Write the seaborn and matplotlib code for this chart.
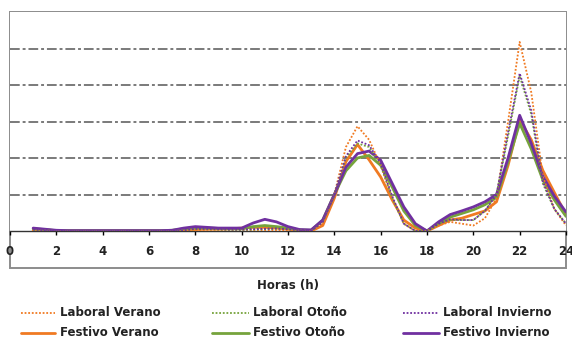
import numpy as np
import pandas as pd
import matplotlib
matplotlib.use("Agg")
import matplotlib.pyplot as plt
import seaborn as sns
from matplotlib.patches import Rectangle
from matplotlib.lines import Line2D

hours = np.arange(1, 24.5, 0.5)

laboral_verano = [0.02, 0.01, 0.0, 0.0, 0.0, 0.0, 0.0, 0.0, 0.0, 0.0, 0.0, 0.0, 0.0, 0.01,
                  0.02, 0.03, 0.03, 0.02, 0.02, 0.02, 0.02, 0.02, 0.02, 0.01, 0.0, 0.2,
                  1.0, 2.3, 2.87, 2.5, 1.8, 0.9, 0.2, 0.0, 0.0, 0.15, 0.25, 0.2, 0.15,
                  0.35, 0.9, 3.0, 5.18, 3.8, 1.5, 0.6, 0.15]
laboral_otono = [0.03, 0.02, 0.0, 0.0, 0.0, 0.0, 0.0, 0.0, 0.0, 0.0, 0.0, 0.0, 0.0, 0.02,
                 0.05, 0.05, 0.04, 0.03, 0.03, 0.04, 0.05, 0.06, 0.05, 0.02, 0.0, 0.25,
                 1.0, 2.0, 2.4, 2.3, 1.8, 0.9, 0.2, 0.0, 0.0, 0.2, 0.3, 0.3, 0.3,
                 0.55, 1.0, 2.6, 4.25, 3.2, 1.3, 0.6, 0.2]
laboral_invierno = [0.04, 0.02, 0.0, 0.0, 0.0, 0.0, 0.0, 0.0, 0.0, 0.0, 0.0, 0.0, 0.0, 0.02,
                    0.06, 0.06, 0.05, 0.04, 0.04, 0.05, 0.06, 0.07, 0.05, 0.02, 0.0, 0.25,
                    1.0, 2.05, 2.48, 2.35, 1.85, 0.95, 0.2, 0.0, 0.0, 0.2, 0.32, 0.3, 0.3,
                    0.55, 1.0, 2.7, 4.32, 3.3, 1.35, 0.6, 0.2]
festivo_verano = [0.02, 0.01, 0.0, 0.0, 0.0, 0.0, 0.0, 0.0, 0.0, 0.0, 0.0, 0.0, 0.0, 0.02,
                  0.04, 0.05, 0.05, 0.06, 0.08, 0.1, 0.1, 0.08, 0.05, 0.01, 0.0, 0.15,
                  0.9, 1.9, 2.37, 1.95, 1.48, 0.85, 0.3, 0.08, 0.0, 0.15, 0.3, 0.35, 0.45,
                  0.55, 0.8, 1.8, 3.05, 2.5, 1.66, 1.05, 0.45]
festivo_otono = [0.06, 0.04, 0.01, 0.01, 0.01, 0.01, 0.01, 0.01, 0.01, 0.01, 0.01, 0.01, 0.02, 0.06,
                 0.09, 0.08, 0.07, 0.06, 0.06, 0.12, 0.15, 0.12, 0.08, 0.03, 0.02, 0.3,
                 1.0, 1.65, 2.0, 2.07, 1.8, 1.2, 0.55, 0.15, 0.0, 0.2, 0.38, 0.48, 0.58,
                 0.72, 0.92, 1.9, 2.95, 2.25, 1.4, 0.85, 0.4]
festivo_invierno = [0.08, 0.05, 0.02, 0.01, 0.01, 0.01, 0.01, 0.01, 0.01, 0.01, 0.01, 0.01, 0.02, 0.08,
                    0.12, 0.1, 0.08, 0.08, 0.08, 0.22, 0.32, 0.25, 0.12, 0.04, 0.03, 0.3,
                    1.0, 1.75, 2.12, 2.19, 1.94, 1.3, 0.66, 0.2, 0.0, 0.25, 0.45, 0.55, 0.66,
                    0.8, 1.0, 2.0, 3.17, 2.4, 1.5, 0.95, 0.52]

orange = "#F07A22"
green = "#76A33C"
purple = "#7030A0"

series = [
    ("Laboral Verano", laboral_verano, orange, ":"),
    ("Festivo Verano", festivo_verano, orange, "-"),
    ("Laboral Otoño", laboral_otono, green, ":"),
    ("Festivo Otoño", festivo_otono, green, "-"),
    ("Laboral Invierno", laboral_invierno, purple, ":"),
    ("Festivo Invierno", festivo_invierno, purple, "-"),
]

sns.set_theme(style="white")
plt.rcParams["font.family"] = ["DejaVu Sans"]

fig = plt.figure(figsize=(5.72, 3.39), dpi=100)
W, H = 572, 339
ax = fig.add_axes([10 / W, (H - 231) / H, 556 / W, 219 / H])

# gridlines
for yv in [1, 2, 3, 4, 5]:
    ax.axhline(yv, color="#7a7a7a", lw=1.4, ls=(0, (5, 1.5, 1.5, 1.5)), zorder=1)

# solid lines first, dotted on top
for name, vals, col, ls in series:
    df = pd.DataFrame({"h": hours, "v": vals})
    if ls == "-":
        sns.lineplot(data=df, x="h", y="v", ax=ax, color=col, lw=2.0, zorder=3)
    else:
        sns.lineplot(data=df, x="h", y="v", ax=ax, color=col, lw=1.3,
                     linestyle=(0, (1, 1)), zorder=4)

ax.set_xlim(0, 24)
ax.set_ylim(0, 6)
ax.set_xticks(range(0, 25, 2))
ax.set_yticks([])
ax.set_xlabel("")
ax.set_ylabel("")
ax.tick_params(axis="x", direction="out", length=3, width=1, color="black",
               labelsize=8.5, pad=7, bottom=True)
for lab in ax.get_xticklabels():
    lab.set_fontweight("bold")
    lab.set_color("#222222")
for s in ["top", "right", "left"]:
    ax.spines[s].set_visible(False)
ax.spines["bottom"].set_color("#333333")
ax.spines["bottom"].set_linewidth(1.0)

# outer plot-area frame
fig.add_artist(Rectangle((10 / W, (H - 268) / H), 556 / W, 256 / H,
                         transform=fig.transFigure, fill=False,
                         edgecolor="#8c8c8c", lw=1.4, zorder=0))

fig.text(288 / W, 1 - 286 / H, "Horas (h)", ha="center", va="center",
         fontsize=8.5, fontweight="bold", color="#222222")

# legend, laid out by hand: 3 columns x 2 rows
col_x = [(21, 55, 60), (212, 249, 253), (403, 439, 443)]
row_y = [313, 333]
for i, (name, vals, col, ls) in enumerate(series):
    c, r = divmod(i, 2)
    x0, x1, xt = col_x[c]
    y = 1 - row_y[r] / H
    if ls == "-":
        ln = Line2D([x0 / W, x1 / W], [y, y], color=col, lw=2.0, transform=fig.transFigure)
    else:
        ln = Line2D([x0 / W, x1 / W], [y, y], color=col, lw=1.3, linestyle=(0, (1, 1)),
                    transform=fig.transFigure)
    fig.add_artist(ln)
    fig.text(xt / W, y, name, ha="left", va="center", fontsize=8.5,
             fontweight="bold", color="#222222")

fig.savefig("out.png", dpi=100)
